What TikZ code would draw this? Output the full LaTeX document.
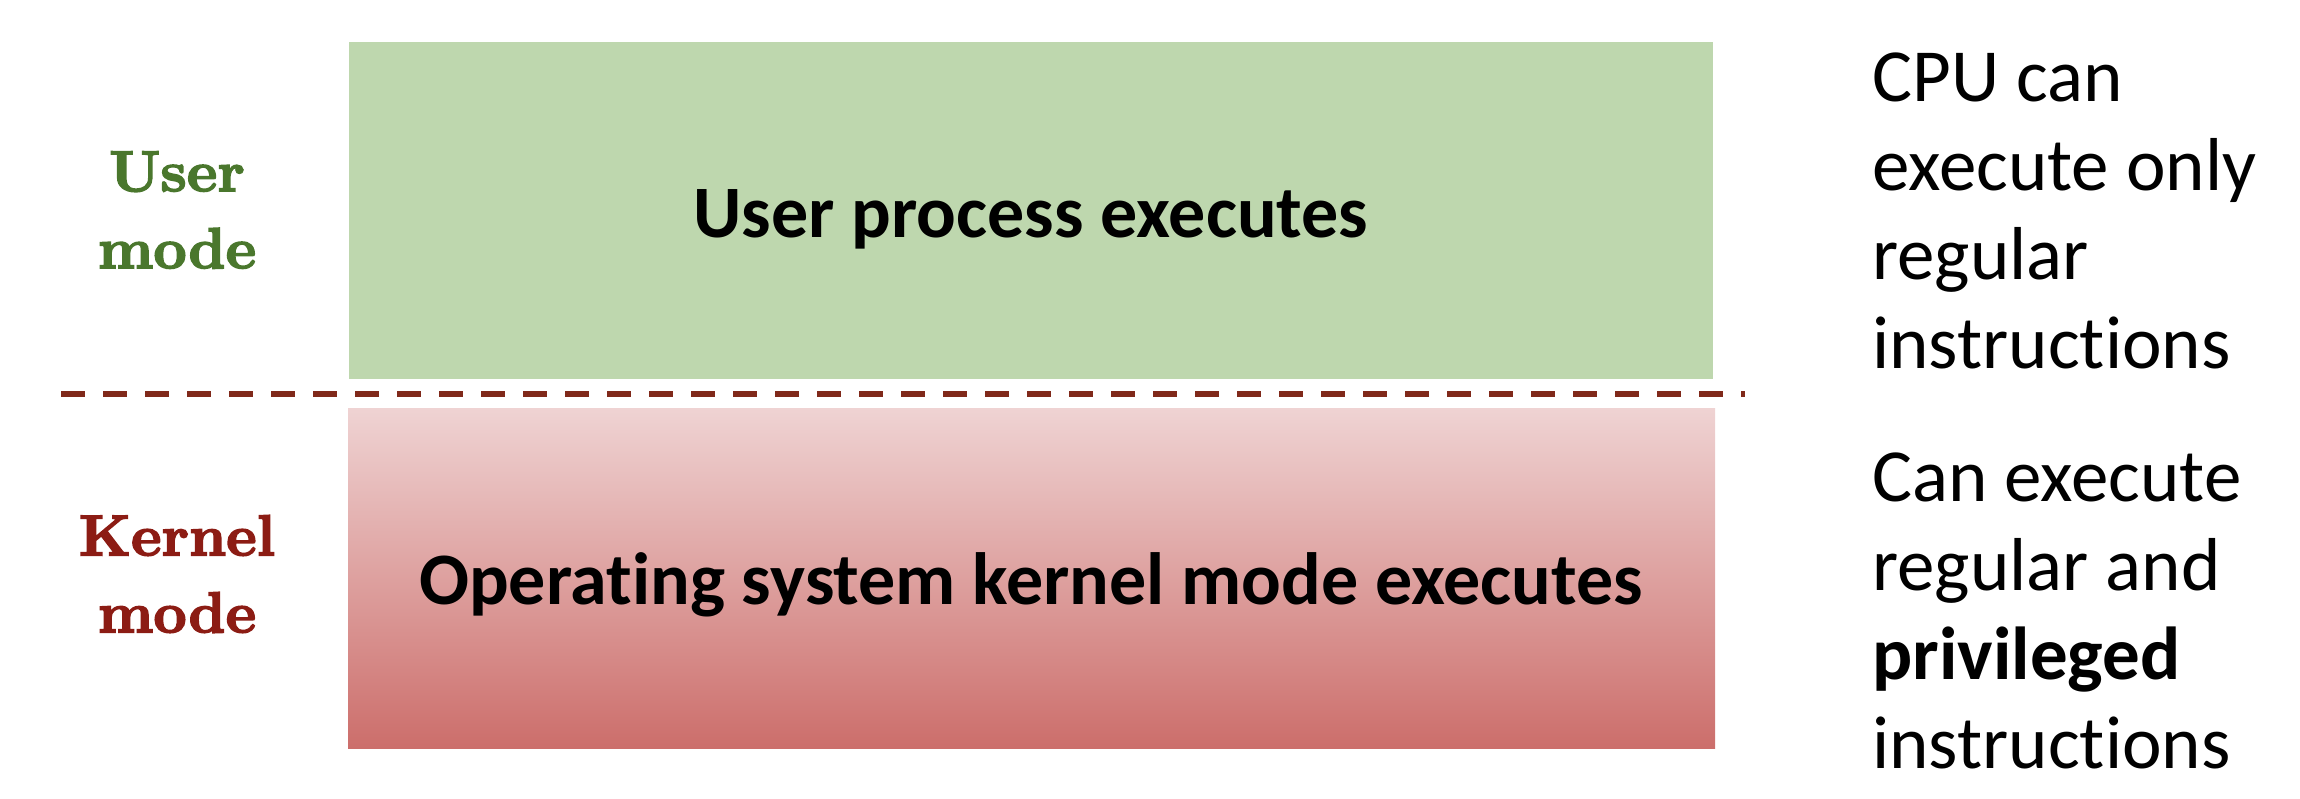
\documentclass[tikz,border=0pt]{standalone}
\usepackage{fontspec}
\newfontfamily\calfont{Carlito}[Ligatures=NoCommon]
\newfontfamily\lmbx{lmroman10-bold.otf}[FakeBold=2.6]
\definecolor{userfill}{RGB}{190,215,174}
\definecolor{kertop}{RGB}{239,211,211}
\definecolor{kerbot}{RGB}{204,110,107}
\definecolor{usergreen}{RGB}{74,119,45}
\definecolor{kernred}{RGB}{140,28,20}
\definecolor{dashcol}{RGB}{128,41,26}
\tikzset{
  modelabel/.style={align=center, inner sep=0pt, font=\lmbx\fontsize{29pt}{38.5pt}\selectfont},
  boxtext/.style={anchor=base, inner sep=0pt, font=\calfont\bfseries\fontsize{37pt}{44pt}\selectfont},
  sidetext/.style={anchor=base west, inner sep=0pt, font=\calfont\fontsize{37.5pt}{44.75pt}\selectfont},
  userbox/.style={draw=none, fill=userfill, minimum width=682pt, minimum height=168.5pt, inner sep=0pt},
  kernbox/.style={draw=none, top color=kertop, bottom color=kerbot, minimum width=683.5pt, minimum height=170pt, inner sep=0pt},
  divider/.style={draw=dashcol, line width=3pt, dash pattern=on 12pt off 9pt}
}
\begin{document}
\begin{tikzpicture}[x=0.5pt,y=-0.5pt]
\path[use as bounding box] (0,0) rectangle (2300,798);
% boxes
\node[userbox] (ubox) at (1031,210.5) {};
\node[kernbox] (kbox) at (1031.5,578) {};
% box texts
\node[boxtext] (utext) at (1031,237) {User process executes};
\node[boxtext] (ktext) at (1031,604) {Operating system kernel mode executes};
% divider
\coordinate (dl) at (61,394);
\coordinate (dr) at (1745,394);
\draw[divider] (dl) -- (dr);
% mode labels
\node[modelabel, text=usergreen] (ulabel) at (177,210) {User\\mode};
\node[modelabel, text=kernred] (klabel) at (177,574) {Kernel\\mode};
% side texts
\node[sidetext] (s1) at (1872,101) {CPU can};
\node[sidetext] (s2) at (1872,190) {execute only};
\node[sidetext] (s3) at (1872,279) {regular};
\node[sidetext] (s4) at (1872,368) {instructions};
\node[sidetext] (s5) at (1872,501) {Can execute};
\node[sidetext] (s6) at (1872,590) {regular and};
\node[sidetext] (s7) at (1872,679) {\bfseries privileged};
\node[sidetext] (s8) at (1872,768) {instructions};
\end{tikzpicture}
\end{document}
